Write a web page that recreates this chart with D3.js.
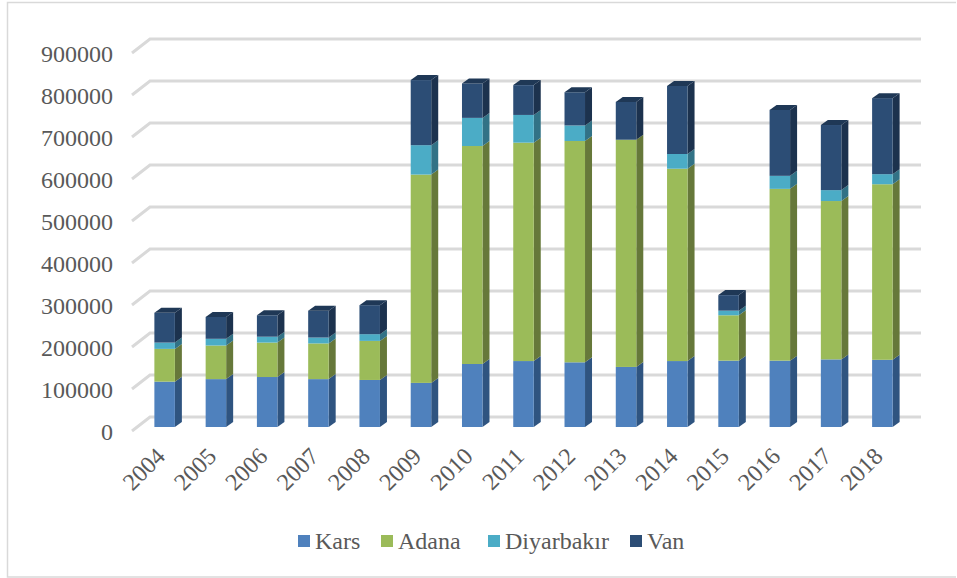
<!DOCTYPE html>
<meta charset="utf-8">
<style>
body { margin: 0; background: #fff; }
text { font-family: "Liberation Serif", serif; fill: #595959; }
</style>
<svg width="957" height="578"></svg>
<script src="https://d3js.org/d3.v7.min.js"></script>
<script>

var years = ["2004","2005","2006","2007","2008","2009","2010","2011","2012","2013","2014","2015","2016","2017","2018"]
var names = ["Kars", "Adana", "Diyarbakır", "Van"]

var kars  = [108000,114000,119000,114000,112000,105000,150000,157000,154000,143000,157000,158000,158000,161000,160000]
var adana = [78000,80000,82000,85000,93000,496000,519000,520000,527000,541000,458000,108000,409000,377000,418000]
var diyar = [15000,16000,14000,14000,16000,70000,67000,66000,37000,0,35000,11000,31000,26000,24000]
var van   = [71000,52000,51000,64000,69000,155000,82000,71000,79000,90000,162000,37000,157000,155000,181000]

var yTicks = [0,100000,200000,300000,400000,500000,600000,700000,800000,900000]

var front = ["#4f81bd", "#9bbb59", "#4bacc6", "#2c4d75"]
var side  = ["#2f5480", "#66783a", "#327286", "#1c324e"]
var topc  = ["#3f6797", "#7d9648", "#3c8a9f", "#1f3856"]

var svg = d3.select("svg")

// chart frame
svg.append("path")
  .attr("d", "M956,2.5H7.5V577H956")
  .attr("fill", "none")
  .attr("stroke", "#d9d9d9")
  .attr("stroke-width", 1.5)

var rows = years.map(function(y, i) {
  return {year: y, Kars: kars[i], Adana: adana[i], "Diyarbakır": diyar[i], Van: van[i]}
})
var stack = d3.stack().keys(names)(rows)

var x = d3.scaleBand().domain(years).range([139, 908]).paddingInner(0.6).paddingOuter(0.3)
var y = d3.scaleLinear().domain([0, 900000]).range([427, 49])

// depth offsets of the 3d look
var bar_dx = 7, bar_dy = -5      // bar thickness
var wall_dx = 11, wall_dy = -10  // from bar front to back wall
var floor_dx = -7, floor_dy = 4  // from bar front to front edge of the floor

// gridlines: back wall plus the slanted bit on the side wall
var grid = svg.append("g").attr("class", "grid")
grid.selectAll("path")
  .data(yTicks)
  .enter().append("path")
    .attr("fill", "none")
    .attr("stroke", "#d9d9d9")
    .attr("stroke-width", 3)
    .attr("d", function(d) {
      var yy = y(d)
      return "M" + (x.range()[0] + floor_dx) + "," + (yy + floor_dy) +
        "L" + (x.range()[0] + wall_dx) + "," + (yy + wall_dy) +
        "L" + (x.range()[1] + wall_dx + 2) + "," + (yy + wall_dy)
    })

// y labels
var yAxis = svg.append("g")
  .attr("transform", "translate(113,4.5)")
  .call(d3.axisLeft(y).tickValues(yTicks).tickSize(0).tickPadding(0).tickFormat(d3.format("d")))
yAxis.select(".domain").remove()
yAxis.selectAll("text").style("font-size", "24px").style("font-family", "Liberation Serif").attr("fill", "#595959")

// x labels
svg.append("g").selectAll("text")
  .data(years)
  .enter().append("text")
    .attr("text-anchor", "end")
    .style("font-size", "24px")
    .attr("transform", function(d) {
      return "translate(" + (x(d) + x.bandwidth() / 2 - 10) + ",446) rotate(-45)"
    })
    .attr("dy", "0.7em")
    .text(function(d) { return d })

// bars, from the bottom segment up
var w = x.bandwidth()
stack.forEach(function(s, k) {
  var g = svg.append("g").attr("class", "series")

  g.selectAll(".side").data(s).enter().append("path")
    .attr("fill", side[k])
    .attr("d", function(d) {
      var xr = x(d.data.year) + w, y0 = y(d[0]), y1 = y(d[1])
      return "M" + xr + "," + y0 + "L" + (xr + bar_dx) + "," + (y0 + bar_dy) +
        "L" + (xr + bar_dx) + "," + (y1 + bar_dy) + "L" + xr + "," + y1 + "Z"
    })

  g.selectAll(".front").data(s).enter().append("rect")
    .attr("fill", front[k])
    .attr("x", function(d) { return x(d.data.year) })
    .attr("width", w)
    .attr("y", function(d) { return y(d[1]) })
    .attr("height", function(d) { return y(d[0]) - y(d[1]) })

  // only the last segment shows its top
  if (k === names.length - 1) {
    g.selectAll(".top").data(s).enter().append("path")
      .attr("fill", topc[k])
      .attr("d", function(d) {
        var xl = x(d.data.year), yt = y(d[1])
        return "M" + xl + "," + yt + "L" + (xl + bar_dx) + "," + (yt + bar_dy) +
          "L" + (xl + w + bar_dx) + "," + (yt + bar_dy) + "L" + (xl + w) + "," + yt + "Z"
      })
  }
})

// legend
var legendX = [298, 381, 488, 630]
var legend = svg.append("g").selectAll("g")
  .data(names)
  .enter().append("g")
    .attr("transform", function(d, i) { return "translate(" + legendX[i] + ",535)" })
legend.append("rect")
  .attr("width", 12).attr("height", 12)
  .attr("fill", function(d, i) { return front[i] })
legend.append("text")
  .attr("x", 17).attr("y", 14)
  .style("font-size", "24px")
  .text(function(d) { return d })

</script>
